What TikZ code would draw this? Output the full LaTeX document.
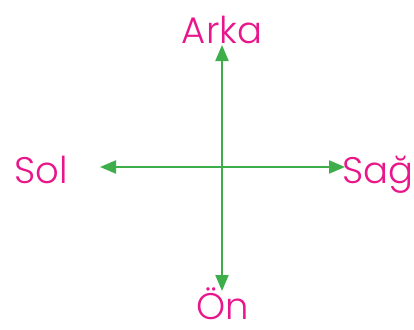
\documentclass[tikz,border=0pt]{standalone}
\usepackage{fontspec}
\setmainfont{Poppins}[UprightFont={* Light}]
\usepackage{tikz}
\usetikzlibrary{arrows.meta}
\definecolor{dirPink}{HTML}{E8168A}
\definecolor{dirGreen}{HTML}{3DAE49}
\tikzset{
  dirlabel/.style={text=dirPink, font=\fontsize{37}{37}\selectfont,
    inner sep=0pt, anchor=base},
  arrowline/.style={{Triangle[length=16pt, width=13pt]}-{Triangle[length=16pt, width=13pt]},
    line width=2.2pt, dirGreen},
}
\begin{document}
\begin{tikzpicture}[x=1pt, y=-1pt]
    \useasboundingbox (0,0) rectangle (414,329);
    \node[dirlabel] (arka) at (222,44) {Arka};
    \node[dirlabel] (sol) at (41,183) {Sol};
    \node[dirlabel] (sag) at (378,183) {Sağ};
    \node[dirlabel, text depth=0pt] (on) at (223,319) {Ön};
    \coordinate (top) at (222,45);
    \coordinate (bottom) at (222,291);
    \coordinate (left) at (100,167);
    \coordinate (right) at (345,167);
    \draw[arrowline] (bottom) -- (top);
    \draw[arrowline] (left) -- (right);
  \end{tikzpicture}
\end{document}
